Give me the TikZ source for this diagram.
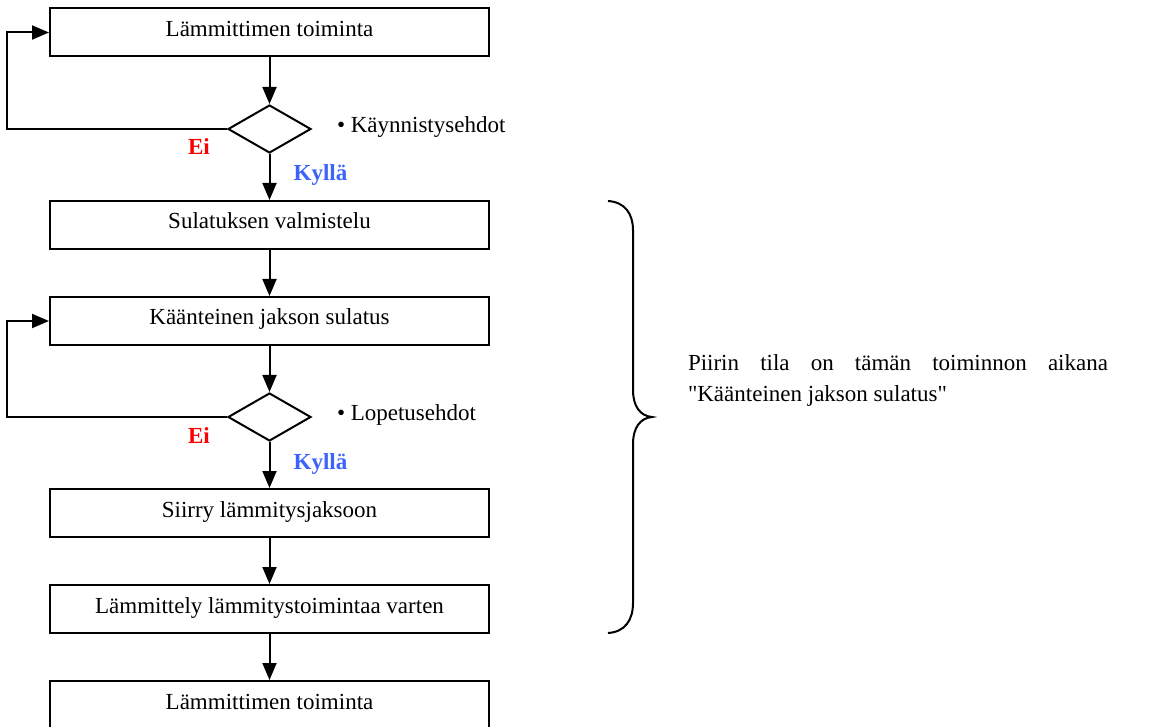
\documentclass[tikz,border=0pt]{standalone}
\usepackage{fontspec}
\setmainfont{Liberation Serif}[Ligatures=TeXOff]
\usetikzlibrary{shapes.geometric,arrows.meta}
\definecolor{eipun}{RGB}{255,0,0}
\definecolor{kyllasin}{RGB}{60,100,250}
\begin{document}
\begin{tikzpicture}[x=.5pt,y=-.5pt,line width=1pt,
 font=\fontsize{11.5}{15.5}\selectfont,
 laatikko/.style={draw,rectangle,minimum width=219.5pt,minimum height=24pt,
  inner sep=0pt,text height=8pt,text depth=4pt},
 ehto/.style={draw,diamond,minimum width=41.5pt,minimum height=24pt,inner sep=0pt},
 vastaus/.style={font=\fontsize{11.5}{15.5}\selectfont\bfseries,anchor=base,inner sep=0pt}]
 \useasboundingbox (0,0) rectangle (1173,727);
 \path
 (269.5,32.5) node[laatikko] (l1) {Lämmittimen toiminta} % <<< alku
 ++(0,96.5) node[ehto] (e1) {}
 ++(0,96) node[laatikko] (l2) {Sulatuksen valmistelu} % <<< sulatus
 ++(0,96) node[laatikko] (l3) {Käänteinen jakson sulatus}
 ++(0,96) node[ehto] (e2) {}
 ++(0,96) node[laatikko] (l4) {Siirry lämmitysjaksoon} % <<< loppu
 ++(0,96) node[laatikko] (l5) {Lämmittely lämmitystoimintaa varten}
 ++(0,96) node[laatikko] (l6) {Lämmittimen toiminta};
 \path
 (e1.west) ++(-28,26) node[vastaus,text=eipun] (ei1) {Ei}
 (e1.south) ++(51,27) node[vastaus,text=kyllasin] (ky1) {Kyllä}
 (e1.east) ++(24,3.5) node[anchor=base west,inner sep=0pt] (ehto1) {• Käynnistysehdot}
 (e2.west) ++(-28,26) node[vastaus,text=eipun] (ei2) {Ei}
 (e2.south) ++(51,27) node[vastaus,text=kyllasin] (ky2) {Kyllä}
 (e2.east) ++(24,3.5) node[anchor=base west,inner sep=0pt] (ehto2) {• Lopetusehdot};
 \begin{scope}[-{Triangle[length=8.5pt,width=7pt]}]
 \draw (l1)--(e1);
 \draw (e1)--(l2);
 \draw (l2)--(l3);
 \draw (l3)--(e2);
 \draw (e2)--(l4);
 \draw (l4)--(l5);
 \draw (l5)--(l6);
 \draw (e1.west)--++(-220,0)|-(l1.west);
 \draw (e2.west)--++(-220,0)|-(l3.west);
 \end{scope}
 % aaltosulje
 \draw (608,201) .. controls (625,202) and (633,214) .. (633,230) -- (633,390)
  .. controls (633,406) and (640,416) .. (652,417)
  .. controls (640,418) and (633,428) .. (633,444) -- (633,603)
  .. controls (633,620) and (625,632) .. (608,633);
 \node[anchor=base west,inner sep=0pt,align=left] (selite) at (687,401.7)
  {\makebox[210pt][s]{Piirin tila on tämän toiminnon aikana}\\"Käänteinen jakson sulatus"};
\end{tikzpicture}
\end{document}
